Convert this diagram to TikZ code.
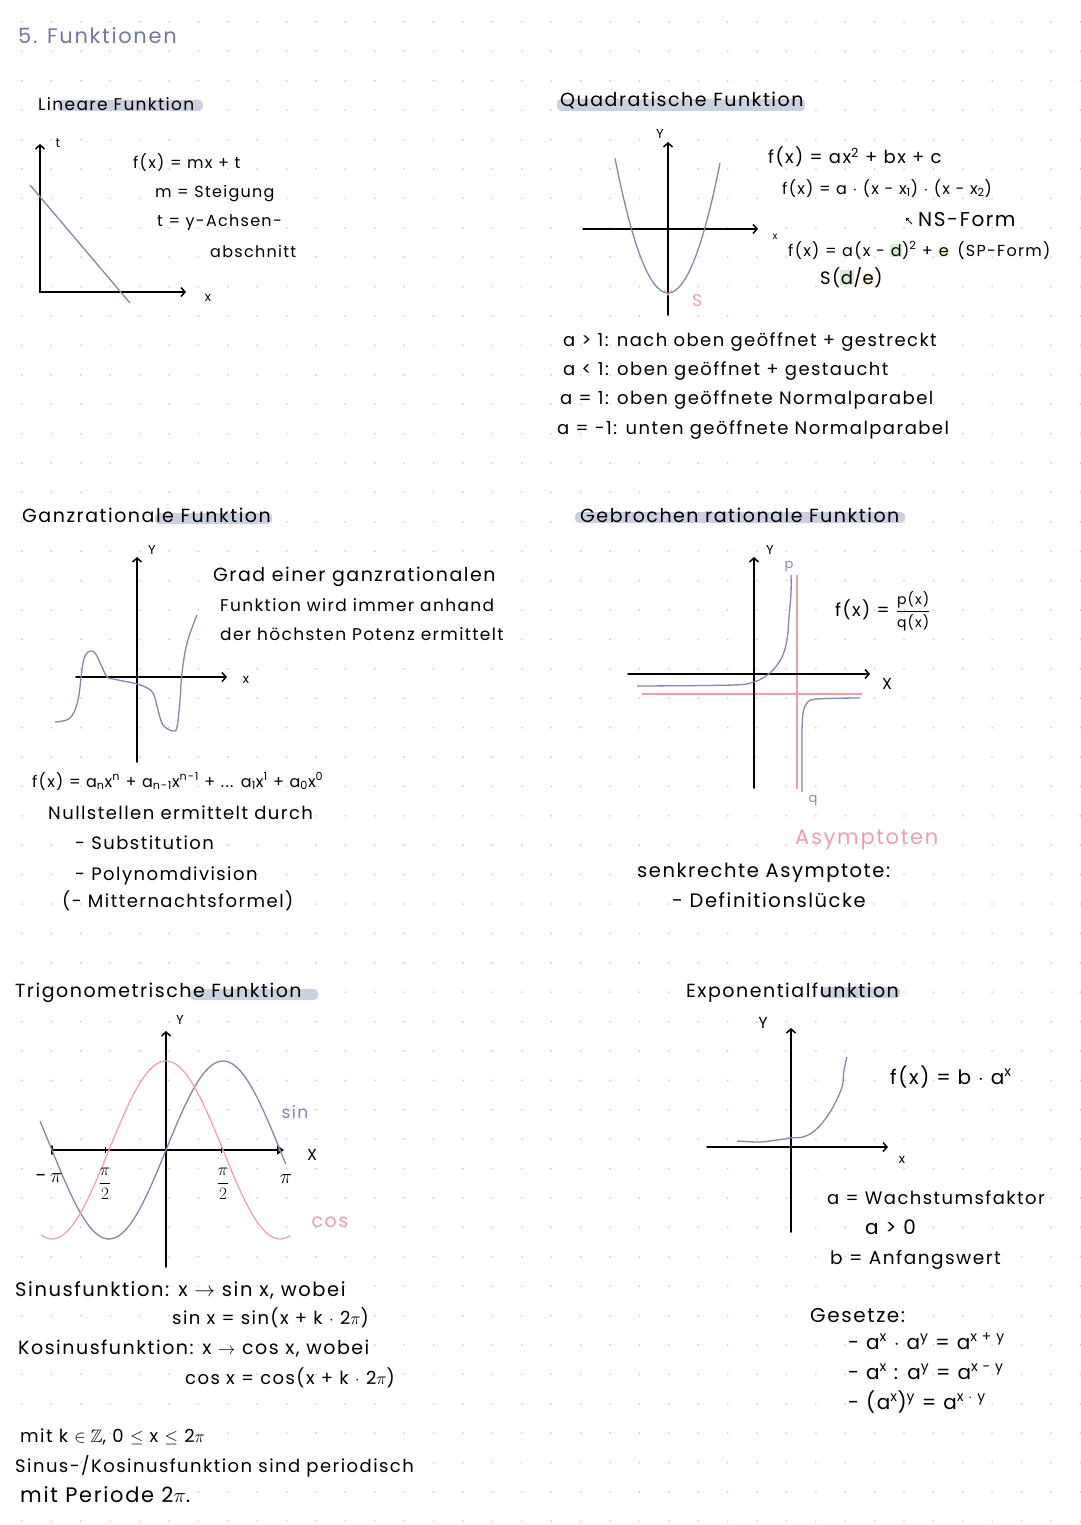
\documentclass[tikz,border=0pt]{standalone}
\usepackage{amsmath,amssymb}
\usepackage{fontspec}
\setmainfont{Poppins}[LetterSpace=8]
\usetikzlibrary{arrows.meta,backgrounds}

\definecolor{dotgray}{RGB}{208,208,214}
\definecolor{penblue}{RGB}{128,138,168}
\definecolor{penpink}{RGB}{236,160,166}
\definecolor{hlblue}{RGB}{202,210,224}
\definecolor{titleblue}{RGB}{108,122,158}
\definecolor{hlgreen}{RGB}{218,236,212}
\definecolor{hlyellow}{RGB}{252,240,214}

\tikzset{
  txt/.style={anchor=west, inner sep=0pt, text height=12pt, text depth=4pt,
    font=\fontsize{18}{21}\selectfont},
  txtsmall/.style={txt, font=\fontsize{16}{19}\selectfont},
  txtmid/.style={txt, font=\fontsize{19.5}{22}\selectfont},
  txtbig/.style={txt, font=\fontsize{20}{23}\selectfont},
  head/.style={txt, font=\fontsize{19}{22}\selectfont},
  lbl/.style={inner sep=0pt, font=\fontsize{13}{15}\selectfont},
  axis/.style={line width=1.5pt, line cap=round},
  curve/.style={penblue, line width=1.3pt},
  asym/.style={penpink, line width=1.2pt},
  hl/.style={hlblue, rounded corners=4pt},
  >={Straight Barb[length=4pt,width=9pt]}
}

\begin{document}
\begin{tikzpicture}[x=1pt,y=-1pt]
    \useasboundingbox (0,0) rectangle (1080,1525);

    % Dot grid
    \foreach \i in {0,...,36} {
        \foreach \j in {0,...,51} {
            \fill[dotgray] ({22+29.4*\i},{22+29.4*\j}) circle (1pt);
        }
    }

    % Highlights
    \fill[hl] (58,100) rectangle (203,111);
    \fill[hl] (557,99) rectangle (805,111);
    \fill[hl] (155,513) rectangle (272,524);
    \fill[hl] (575,512) rectangle (905,523);
    \fill[hl] (190,989) rectangle (318,1000);
    \fill[hl] (820,987) rectangle (900,998);

    \node[txtbig, titleblue, font=\fontsize{21}{24}\selectfont] (title) at (18,40) {5. Funktionen};

    % Lineare Funktion
    \node[head, font=\fontsize{17}{20}\selectfont] (hLin) at (38,107) {Lineare Funktion};
    \coordinate (linO) at (40,292);
    \coordinate (linT) at (40,144);
    \coordinate (linX) at (186,292);
    \draw[axis,<->] (linT) -- (linO) -- (linX);
    \node[lbl] (linTl) at (58,143) {t};
    \node[lbl] (linXl) at (208,298) {x};
    \draw[curve] (30,185) -- (130,303);
    \node[txtsmall] (linF) at (133,165) {f(x) = mx + t};
    \node[txtsmall] (linM) at (155,193) {m = Steigung};
    \node[txtsmall] (linA) at (157,222) {t = y-Achsen-};
    \node[txtsmall] (linB) at (210,253) {abschnitt};

    % Quadratische Funktion
    \node[head] (hQuad) at (560,103) {Quadratische Funktion};
    \coordinate (qYb) at (668,315);
    \coordinate (qY) at (668,142);
    \coordinate (qXa) at (583,229);
    \coordinate (qX) at (758,229);
    \draw[axis,->] (qYb) -- (qY);
    \draw[axis,->] (qXa) -- (qX);
    \node[lbl] (qYl) at (660,134) {Y};
    \node[lbl, font=\fontsize{10}{12}\selectfont] (qXl) at (775,237) {x};
    \draw[curve] plot[domain=-53:52, samples=60, smooth] ({668+\x},{293-0.048*\x*\x});
    \draw[penpink, line width=1pt] (664,290) -- (668,295) -- (672,290);
    \node[lbl, penpink, font=\fontsize{17}{19}\selectfont] (qS) at (697,301) {S};
    \node[txt] (qF1) at (768,160) {f(x) = ax\textsuperscript{2} + bx + c};
    \node[txtsmall] (qF2) at (782,190) {f(x) = a $\cdot$ (x - x\textsubscript{1}) $\cdot$ (x - x\textsubscript{2})};
    \node[txtbig] (qNS) at (918,222) {NS-Form};
    \draw[line width=1pt,->,>={Straight Barb[length=2pt,width=4pt]}] ([xshift=-6pt,yshift=-2pt]qNS.west) -- ++(-6,-6);
    \node[txtsmall] (qF3) at (788,252) {f(x) = a(x - {\setlength\fboxsep{0.5pt}\colorbox{hlgreen}{d}})\textsuperscript{2} + {\setlength\fboxsep{0.5pt}\colorbox{hlyellow}{e}}\enspace (SP-Form)};
    \node[txt] (qS2) at (820,280) {S({\setlength\fboxsep{0.5pt}\colorbox{hlgreen}{d}}/{\setlength\fboxsep{0.5pt}\colorbox{hlyellow}{e}})};
    \node[txt] (qA1) at (563,342) {a > 1: nach oben geöffnet + gestreckt};
    \node[txt] (qA2) at (563,371) {a < 1: oben geöffnet + gestaucht};
    \node[txt] (qA3) at (560,400) {a = 1: oben geöffnete Normalparabel};
    \node[txt] (qA4) at (557,430) {a = -1: unten geöffnete Normalparabel};

    % Ganzrationale Funktion
    \node[head] (hGanz) at (22,518) {Ganzrationale Funktion};
    \coordinate (gYb) at (137,762);
    \coordinate (gY) at (137,557);
    \coordinate (gXa) at (76,677);
    \coordinate (gX) at (227,677);
    \draw[axis,->] (gYb) -- (gY);
    \draw[axis,->] (gXa) -- (gX);
    \node[lbl] (gYl) at (152,550) {Y};
    \node[lbl] (gXl) at (246,680) {x};
    \draw[curve] plot[smooth, tension=0.6] coordinates {(55,722) (70,718) (78,700) (83,663) (88,652) (95,653) (102,667) (107,677) (113,679) (133,683) (143,686) (153,693) (158,710) (163,725) (173,731) (177,727) (180,700) (182,673) (187,643) (197,615)};
    \node[txt, font=\fontsize{19}{22}\selectfont] (gT1) at (213,577) {Grad einer ganzrationalen};
    \node[txt, font=\fontsize{17}{20}\selectfont] (gT2) at (220,607) {Funktion wird immer anhand};
    \node[txt, font=\fontsize{17}{20}\selectfont] (gT3) at (220,636) {der höchsten Potenz ermittelt};
    \node[txtsmall] (gF) at (32,783) {f(x) = a\textsubscript{n}x\textsuperscript{n} + a\textsubscript{n-1}x\textsuperscript{n-1} + ... a\textsubscript{1}x\textsuperscript{1} + a\textsubscript{0}x\textsuperscript{0}};
    \node[txt] (gN) at (48,815) {Nullstellen ermittelt durch};
    \node[txt] (gN1) at (75,845) {- Substitution};
    \node[txt] (gN2) at (75,876) {- Polynomdivision};
    \node[txt] (gN3) at (62,903) {(- Mitternachtsformel)};

    % Gebrochen rationale Funktion
    \node[head] (hGebr) at (580,518) {Gebrochen rationale Funktion};
    \coordinate (rYb) at (754,788);
    \coordinate (rY) at (754,557);
    \coordinate (rXa) at (628,674);
    \coordinate (rX) at (870,674);
    \draw[asym] (797,575) -- (797,789);
    \draw[asym] (642,694) -- (862,694);
    \draw[axis,->] (rYb) -- (rY);
    \draw[axis,->] (rXa) -- (rX);
    \node[lbl] (rYl) at (770,550) {Y};
    \node[lbl, font=\fontsize{16}{18}\selectfont] (rXl) at (887,684) {X};
    \draw[curve] plot[smooth, tension=0.6] coordinates {(637,686) (733,685) (753,682) (763,678) (773,670) (782,657) (787,640) (789,617) (791,593) (791,575)};
    \draw[curve] plot[smooth, tension=0.6] coordinates {(860,698) (817,699) (807,703) (803,713) (802,733) (802,767) (802,792)};
    \node[lbl, penblue] (rP) at (789,567) {p};
    \node[lbl, penblue] (rQ) at (813,801) {q};
    \node[txt] (rF) at (835,612) {f(x) = $\displaystyle\frac{\mbox{\fontsize{14}{16}\selectfont p(x)}}{\mbox{\fontsize{14}{16}\selectfont q(x)}}$};
    \node[txtbig, penpink, font=\fontsize{21}{24}\selectfont] (rAs) at (795,840) {Asymptoten};
    \node[txtmid] (rS) at (637,873) {senkrechte Asymptote:};
    \node[txtmid] (rD) at (672,903) {- Definitionslücke};

    % Trigonometrische Funktion
    \node[head] (hTrig) at (15,993) {Trigonometrische Funktion};
    \coordinate (tYb) at (166,1267);
    \coordinate (tY) at (166,1031);
    \coordinate (tXa) at (52,1150);
    \coordinate (tX) at (284,1150);
    \draw[axis,->] (tYb) -- (tY);
    \draw[axis,-{Triangle[open,length=7pt,width=9pt]}] (tXa) -- (tX);
    \draw[axis] (52,1146) -- (52,1154);
    \draw[line width=1pt] (105,1147) -- (105,1153);
    \draw[line width=1pt] (221,1147) -- (221,1153);
    \node[lbl] (tYl) at (180,1020) {Y};
    \node[lbl, font=\fontsize{16}{18}\selectfont] (tXl) at (312,1155) {X};
    \draw[curve] plot[domain=-3.47:3.3, samples=90, smooth] ({166+36.3*\x},{1150-89*sin(\x r)});
    \draw[asym] plot[domain=-3.44:3.42, samples=90, smooth] ({166+36.3*\x},{1150-89*cos(\x r)});
    \node[lbl, font=\fontsize{20}{22}\selectfont] (tMpi) at (49,1178) {-\,$\pi$};
    \node[lbl, font=\fontsize{17}{19}\selectfont] (tMpi2) at (105,1184) {$\dfrac{\pi}{2}$};
    \node[lbl, font=\fontsize{17}{19}\selectfont] (tPpi2) at (223,1184) {$\dfrac{\pi}{2}$};
    \node[lbl, font=\fontsize{20}{22}\selectfont] (tPpi) at (286,1179) {$\pi$};
    \node[lbl, penblue, font=\fontsize{17}{19}\selectfont] (tSin) at (295,1112) {sin};
    \node[lbl, penpink, font=\fontsize{19}{21}\selectfont] (tCos) at (330,1222) {cos};
    \node[txtmid] (tS1) at (15,1292) {Sinusfunktion: x $\rightarrow$ sin x, wobei};
    \node[txt] (tS2) at (172,1320) {sin x = sin(x + k $\cdot$ 2$\pi$)};
    \node[txt, font=\fontsize{19}{22}\selectfont] (tC1) at (18,1350) {Kosinusfunktion: x $\rightarrow$ cos x, wobei};
    \node[txt] (tC2) at (185,1380) {cos x = cos(x + k $\cdot$ 2$\pi$)};
    \node[txt] (tK) at (20,1438) {mit k $\in\mathbb{Z}$, 0 $\le$ x $\le$ 2$\pi$};
    \node[txt] (tP1) at (15,1468) {Sinus-/Kosinusfunktion sind periodisch};
    \node[txtbig, font=\fontsize{21}{24}\selectfont] (tP2) at (20,1498) {mit Periode 2$\pi$.};

    % Exponentialfunktion
    \node[head] (hExp) at (686,993) {Exponentialfunktion};
    \coordinate (eYb) at (791,1232);
    \coordinate (eY) at (791,1028);
    \coordinate (eXa) at (707,1147);
    \coordinate (eX) at (888,1147);
    \draw[axis,->] (eYb) -- (eY);
    \draw[axis,->] (eXa) -- (eX);
    \node[lbl, font=\fontsize{16}{18}\selectfont] (eYl) at (763,1023) {Y};
    \node[lbl] (eXl) at (902,1160) {x};
    \draw[curve] plot[smooth, tension=0.6] coordinates {(737,1141) (760,1142) (777,1140) (791,1138) (803,1137) (813,1132) (823,1122) (833,1107) (842,1087) (844,1070) (847,1057)};
    \node[txtbig] (eF) at (890,1080) {f(x) = b $\cdot$ a\textsuperscript{x}};
    \node[txt] (eA) at (827,1200) {a = Wachstumsfaktor};
    \node[txtbig] (eA2) at (865,1230) {a > 0};
    \node[txt, font=\fontsize{18.5}{21}\selectfont] (eB) at (830,1260) {b = Anfangswert};
    \node[txtbig] (eG) at (810,1318) {Gesetze:};
    \node[txtbig] (eG1) at (848,1345) {- a\textsuperscript{x} $\cdot$ a\textsuperscript{y} = a\textsuperscript{x + y}};
    \node[txtbig] (eG2) at (848,1375) {- a\textsuperscript{x} : a\textsuperscript{y} = a\textsuperscript{x - y}};
    \node[txtbig] (eG3) at (848,1405) {- (a\textsuperscript{x})\textsuperscript{y} = a\textsuperscript{x $\cdot$ y}};
\end{tikzpicture}
\end{document}
